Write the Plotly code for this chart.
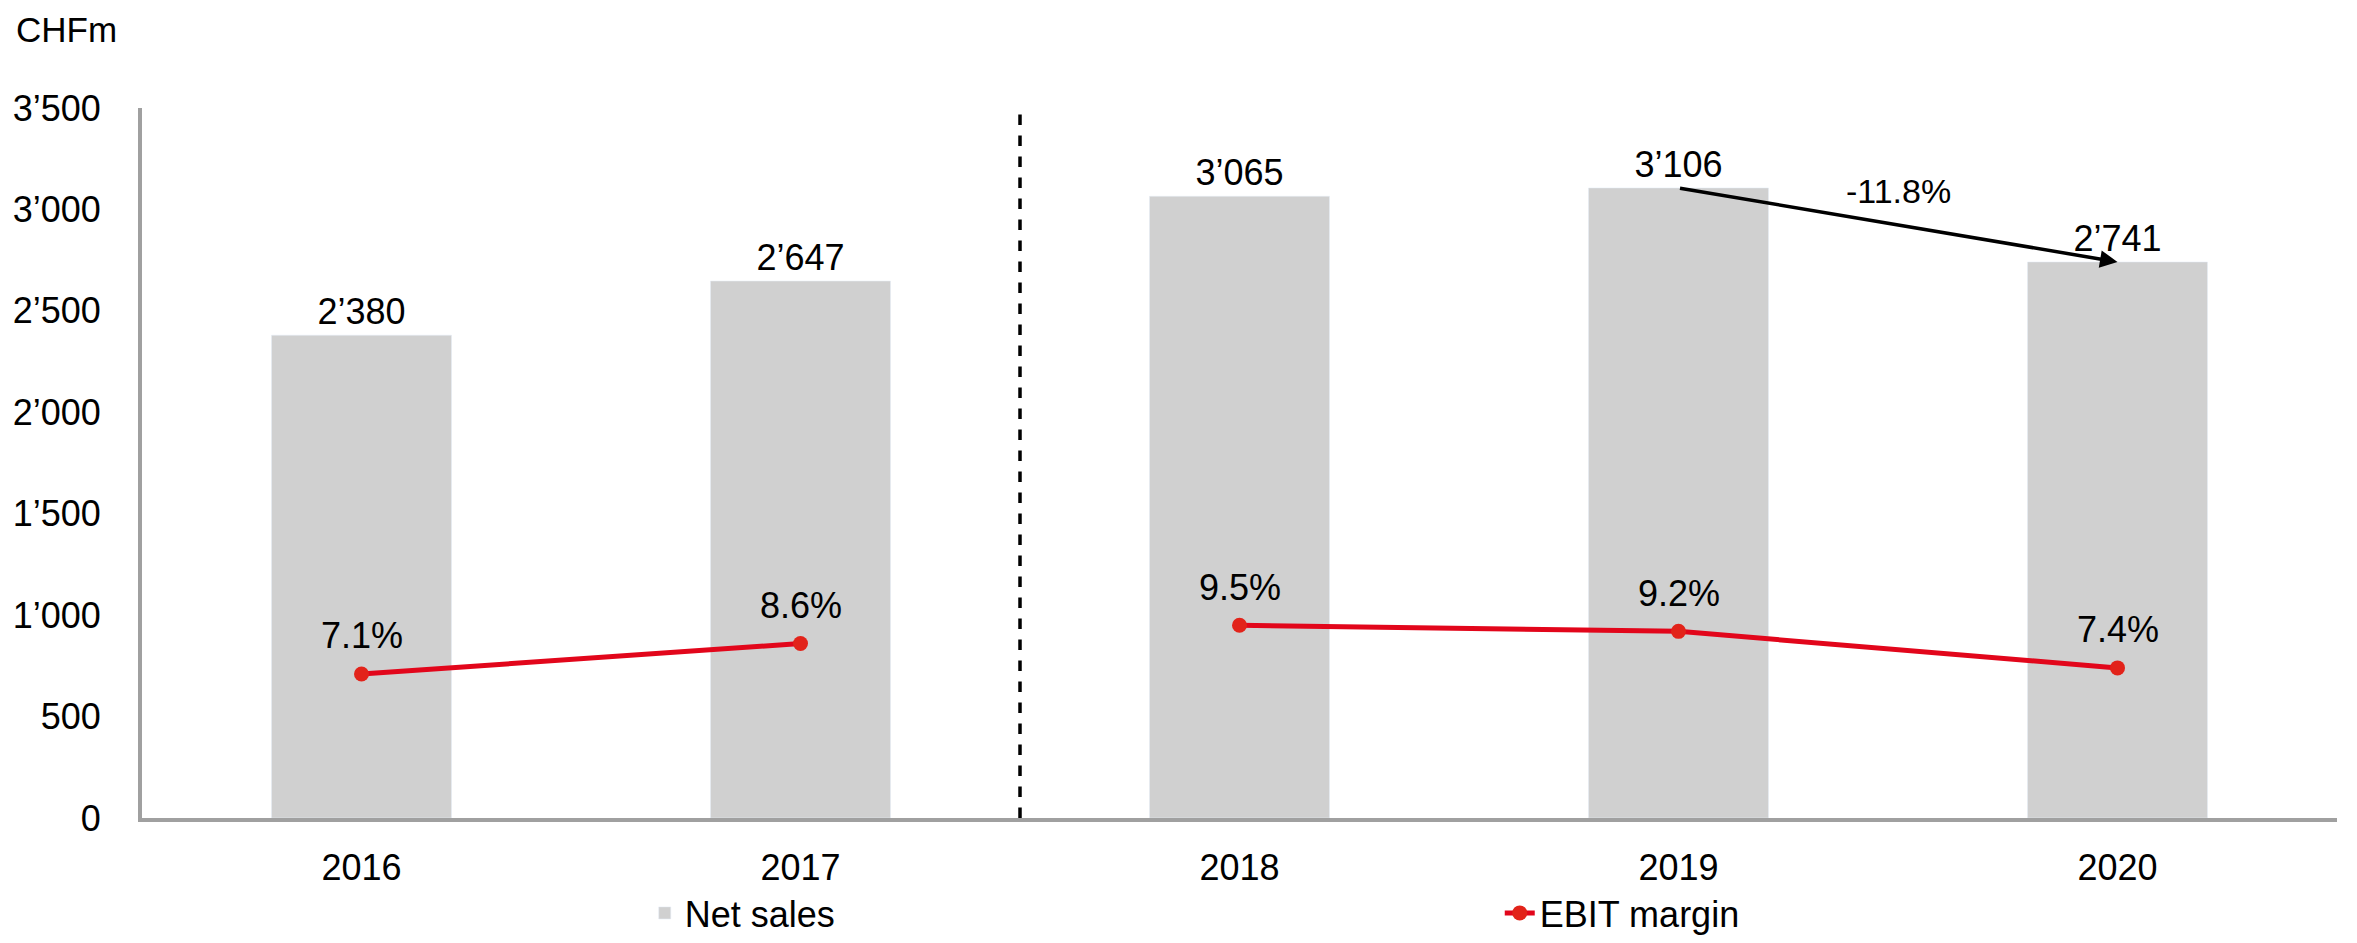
import plotly.graph_objects as go

years = ["2016", "2017", "2018", "2019", "2020"]
net_sales = [2380, 2647, 3065, 3106, 2741]
ebit_margin = [7.1, 8.6, 9.5, 9.2, 7.4]
change_label = "-11.8%"

FONT = "Liberation Sans, Arial, sans-serif"
FS = 36
BAR_COLOR = "#D0D0D0"
RED = "#E2061B"
AXIS_COLOR = "#A0A0A0"

xs = list(range(len(years)))
fmt = lambda v: f"{v:,}".replace(",", "\u2019")

fig = go.Figure()
fig.add_trace(go.Bar(
    x=xs, y=net_sales, name="Net sales", marker_color=BAR_COLOR,
    width=0.41, text=[fmt(v) for v in net_sales], textposition="outside",
    textfont=dict(size=FS, color="black", family=FONT), cliponaxis=False,
))
# EBIT margin: two segments (break between 2017 and 2018)
fig.add_trace(go.Scatter(
    x=xs[:2], y=ebit_margin[:2], yaxis="y2", name="EBIT margin",
    mode="lines+markers", line=dict(color=RED, width=5),
    marker=dict(size=15, color="#E2231A"), legendgroup="ebit", cliponaxis=False,
))
fig.add_trace(go.Scatter(
    x=xs[2:], y=ebit_margin[2:], yaxis="y2", name="EBIT margin",
    mode="lines+markers", line=dict(color=RED, width=5),
    marker=dict(size=15, color="#E2231A"), legendgroup="ebit", showlegend=False,
    cliponaxis=False,
))
for x, m in zip(xs, ebit_margin):
    fig.add_annotation(x=x, y=m, yref="y2", text=f"{m:.1f}%", showarrow=False,
                       yshift=38, font=dict(size=FS, color="black", family=FONT))

# arrow 2019 -> 2020
fig.add_annotation(x=xs[4], y=net_sales[4], ax=xs[3], ay=net_sales[3],
                   xref="x", yref="y", axref="x", ayref="y", text="",
                   showarrow=True, arrowhead=2, arrowsize=1, arrowwidth=3.5,
                   arrowcolor="black", standoff=0)
fig.add_annotation(x=3.5, y=3090, text=change_label, showarrow=False,
                   font=dict(size=FS - 2, color="black", family=FONT))

fig.add_shape(type="line", x0=1.5, x1=1.5, y0=0, y1=3500, xref="x", yref="y",
              line=dict(color="black", width=3.5, dash="dash"))

fig.add_annotation(text="CHFm", xref="paper", yref="paper", x=-0.058, y=1.0,
                   yshift=79, xanchor="left", yanchor="middle", showarrow=False,
                   borderpad=0, font=dict(size=35, color="black", family=FONT))

fig.update_layout(
    width=2341, height=935,
    margin=dict(l=134, r=12, t=100, b=125, autoexpand=False),
    paper_bgcolor="white", plot_bgcolor="white",
    font=dict(family=FONT, size=FS, color="black"),
    showlegend=True,
    legend=dict(orientation="h", xref="container", yref="container",
                x=0.272, y=0.0, xanchor="left", yanchor="bottom",
                font=dict(size=FS, family=FONT), entrywidth=810, entrywidthmode="pixels",
                traceorder="normal", bgcolor="rgba(0,0,0,0)"),
    xaxis=dict(range=[-0.5, 4.5], tickvals=xs, ticktext=years, showgrid=False,
               zeroline=False, showline=True, linecolor=AXIS_COLOR, linewidth=4,
               ticks="", ticklabelstandoff=15, tickfont=dict(size=FS), automargin=False),
    yaxis=dict(range=[0, 3500], tickvals=[0, 500, 1000, 1500, 2000, 2500, 3000, 3500],
               ticktext=[fmt(v) for v in [0, 500, 1000, 1500, 2000, 2500, 3000, 3500]],
               showgrid=False, zeroline=False, showline=True, linecolor=AXIS_COLOR,
               linewidth=4, ticks="", ticklabelstandoff=30, tickfont=dict(size=FS),
               automargin=False),
    yaxis2=dict(range=[0, 35], overlaying="y", visible=False),
)

fig.write_html("out.html")
